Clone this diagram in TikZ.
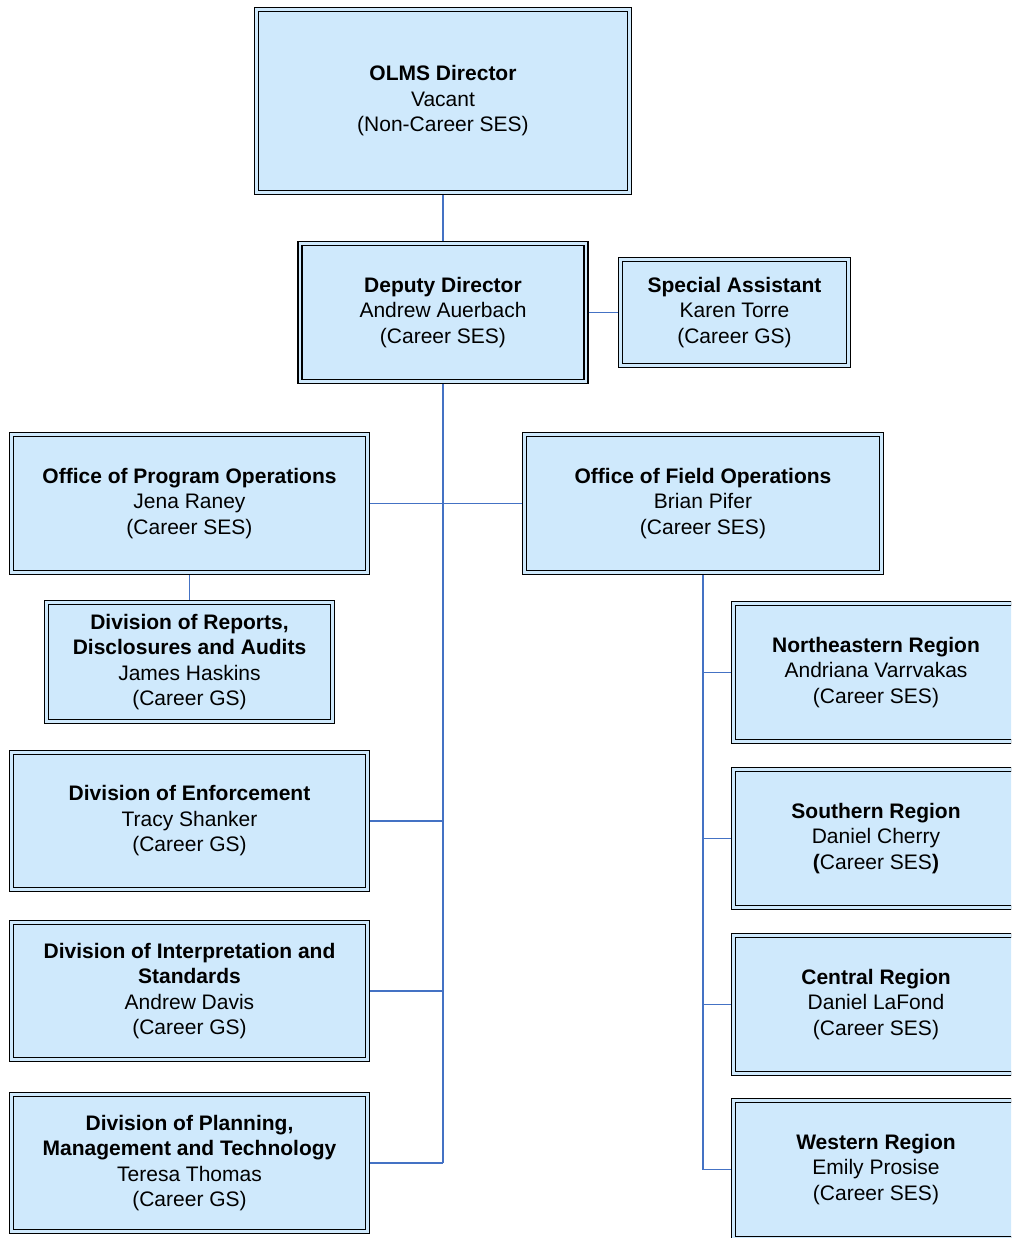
\documentclass[tikz,border=0pt]{standalone}
\usepackage{fontspec}
\setmainfont{Liberation Sans}
\definecolor{boxfill}{HTML}{CFE9FC}
\definecolor{connblue}{HTML}{4472C4}
\begin{document}
\begin{tikzpicture}[x=1pt,y=-1pt,
  box/.style={draw=black, line width=1.35pt, double=boxfill, double distance=2.6pt,
    fill=boxfill, align=center, inner sep=0pt, outer sep=2.6pt,
    font=\fontsize{21}{25.5}\selectfont,
    execute at begin node={\rule{0pt}{21pt}}},
  conn/.style={draw=connblue, line width=1.7pt},
  vconn/.style={draw=connblue, line width=2.2pt}]
\path[use as bounding box] (0,0) rectangle (1011,1238);
\clip (0,0) rectangle (1011,1238);

\node[box, minimum width=373pt, minimum height=183pt] (dir) at (443,101)
  {\textbf{OLMS Director}\\Vacant\\(Non-Career SES)};
\node[box, minimum width=286pt, minimum height=138pt] (dep) at (443,312.5)
  {\textbf{Deputy Director}\\Andrew Auerbach\\(Career SES)};
\node[box, minimum width=228pt, minimum height=106pt] (sa) at (734.5,312.5)
  {\textbf{Special Assistant}\\Karen Torre\\(Career GS)};
\node[box, minimum width=356pt, minimum height=138pt] (opo) at (189.5,503.5)
  {\textbf{Office of Program Operations}\\Jena Raney\\(Career SES)};
\node[box, minimum width=357pt, minimum height=138pt] (ofo) at (703,503.5)
  {\textbf{Office of Field Operations}\\Brian Pifer\\(Career SES)};
\node[box, minimum width=286pt, minimum height=119pt] (drda) at (189.5,662)
  {\textbf{Division of Reports,}\\\textbf{Disclosures and Audits}\\James Haskins\\(Career GS)};
\node[box, minimum width=356pt, minimum height=137pt] (enf) at (189.5,821)
  {\textbf{Division of Enforcement}\\Tracy Shanker\\(Career GS)};
\node[box, minimum width=356pt, minimum height=137pt] (int) at (189.5,991)
  {\textbf{Division of Interpretation and}\\\textbf{Standards}\\Andrew Davis\\(Career GS)};
\node[box, minimum width=356pt, minimum height=137pt] (plan) at (189.5,1163)
  {\textbf{Division of Planning,}\\\textbf{Management and Technology}\\Teresa Thomas\\(Career GS)};
\node[box, minimum width=285pt, minimum height=138pt] (ne) at (876,672.5)
  {\textbf{Northeastern Region}\\Andriana Varrvakas\\(Career SES)};
\node[box, minimum width=285pt, minimum height=138pt] (so) at (876,838.5)
  {\textbf{Southern Region}\\Daniel Cherry\\\textbf{(}Career SES\textbf{)}};
\node[box, minimum width=285pt, minimum height=138pt] (ce) at (876,1004.5)
  {\textbf{Central Region}\\Daniel LaFond\\(Career SES)};
\node[box, minimum width=285pt, minimum height=138pt] (we) at (876,1169.5)
  {\textbf{Western Region}\\Emily Prosise\\(Career SES)};

\coordinate (tbot) at (dep.south |- plan.east);
\coordinate (obot) at (ofo.south |- we.west);

\path[vconn] (dir.south) -- (dep.north);
\path[conn] (dep.east) -- (sa.west);
\path[vconn] (dep.south) -- (tbot);
\path[conn] (opo.east) -- (ofo.west);
\path[conn] (opo.south) -- (drda.north);
\path[conn] (enf.east) -- (enf.east -| dep.south);
\path[conn] (int.east) -- (int.east -| dep.south);
\path[conn] (plan.east) -- (tbot);
\path[vconn] (ofo.south) -- (obot);
\path[conn] (ne.west) -- (ne.west -| ofo.south);
\path[conn] (so.west) -- (so.west -| ofo.south);
\path[conn] (ce.west) -- (ce.west -| ofo.south);
\path[conn] (we.west) -- (obot);
\end{tikzpicture}
\end{document}
